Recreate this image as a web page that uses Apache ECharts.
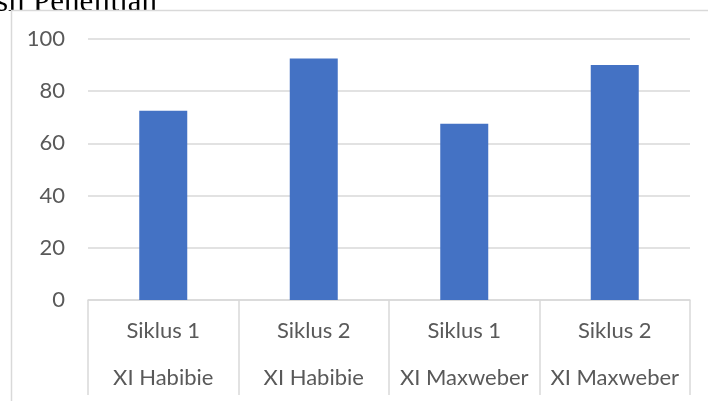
<!DOCTYPE html>
<html style="height: 100%">
<head>
    <meta charset="utf-8">
    <script type="text/javascript" src="https://cdn.jsdelivr.net/npm/echarts@6/dist/echarts.min.js"></script>
</head>
<body style="height: 100%; margin: 0; background: #fff">
<div id="container" style="width: 708px; height: 401px"></div>
<script type="text/javascript">
    // data
    var siklus = ['Siklus 1', 'Siklus 2', 'Siklus 1', 'Siklus 2'];
    var kelas = ['XI Habibie', 'XI Habibie', 'XI Maxweber', 'XI Maxweber'];
    var nilai = [72.5, 92.5, 67.5, 90];
    var yTicks = [0, 20, 40, 60, 80, 100];

    var categories = siklus.map(function (s, i) {
        return s + '\n' + kelas[i];
    });

    var dom = document.getElementById("container");
    var myChart = echarts.init(dom);
    var labelColor = '#595959';
    var lineColor = '#d9d9d9';
    var font = 'Lato, "Open Sans", sans-serif';

    var option = {
        animation: false,
        graphic: [
            {
                // title above the chart, cut off by the picture
                type: 'text',
                style: {
                    text: 'Hasil Penelitian',
                    x: 157, y: 18,
                    textAlign: 'right',
                    textVerticalAlign: 'bottom',
                    font: '31px "Liberation Serif", "Times New Roman", serif',
                    fill: '#000'
                },
                silent: true
            },
            {
                // chart border (cut off at right and bottom)
                type: 'rect',
                shape: { x: 11.5, y: 10.5, width: 760, height: 460 },
                style: { fill: '#fff', stroke: lineColor, lineWidth: 1.5 },
                silent: true
            }
        ],
        grid: {
            left: 88,
            right: 18,
            top: 39,
            bottom: 100.5
        },
        xAxis: {
            type: 'category',
            data: categories,
            axisLine: { show: true, lineStyle: { color: lineColor, width: 1.5 } },
            axisTick: { show: true, interval: 0, length: 95, lineStyle: { color: lineColor, width: 1.5 } },
            axisLabel: {
                interval: 0,
                margin: 7,
                color: labelColor,
                fontFamily: font,
                fontSize: 22,
                lineHeight: 47
            }
        },
        yAxis: {
            type: 'value',
            min: yTicks[0],
            max: yTicks[yTicks.length - 1],
            interval: 20,
            axisLine: { show: false },
            axisTick: { show: false },
            axisLabel: {
                margin: 23,
                color: labelColor,
                fontFamily: font,
                fontSize: 22
            },
            splitLine: { lineStyle: { color: lineColor, width: 1.5 } }
        },
        series: [
            {
                type: 'bar',
                data: nilai,
                barWidth: 48,
                itemStyle: { color: '#4472c4' }
            }
        ]
    };

    myChart.setOption(option);
</script>
</body>
</html>
